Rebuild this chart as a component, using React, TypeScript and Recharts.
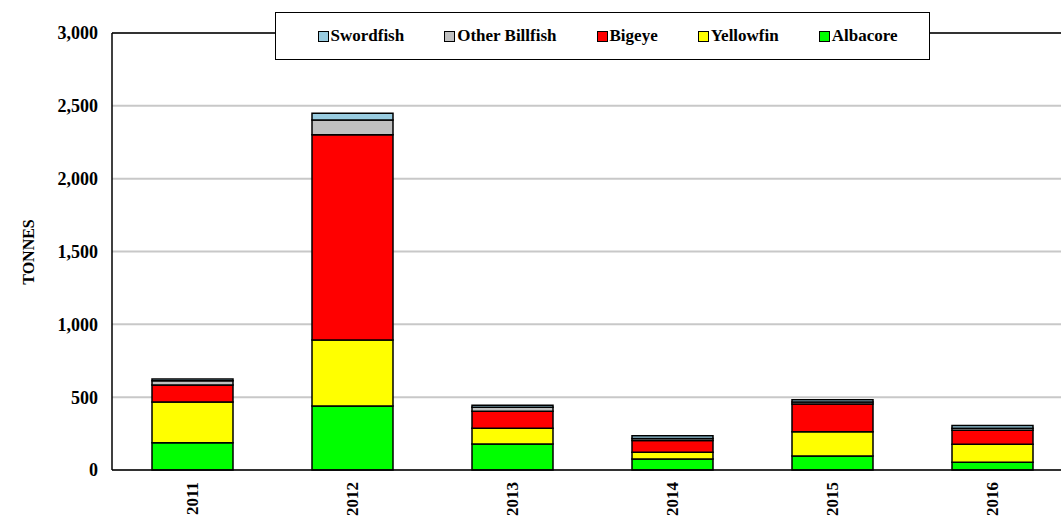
import React from "react";
import {
  Bar,
  BarChart,
  CartesianGrid,
  Label,
  ReferenceLine,
  XAxis,
  YAxis,
} from "recharts";

const years = ["2011", "2012", "2013", "2014", "2015", "2016"];
const albacore = [187, 439, 178, 76, 96, 53];
const yellowfin = [279, 453, 108, 46, 167, 124];
const bigeye = [117, 1410, 117, 80, 190, 96];
const otherBillfish = [30, 101, 27, 15, 14, 14];
const swordfish = [12, 46, 15, 18, 16, 19];
const yTicks = [0, 500, 1000, 1500, 2000, 2500, 3000];

// stacking order, bottom first
const series = [
  { key: "albacore", name: "Albacore", color: "#00FF00" },
  { key: "yellowfin", name: "Yellowfin", color: "#FFFF00" },
  { key: "bigeye", name: "Bigeye", color: "#FF0000" },
  { key: "otherBillfish", name: "Other Billfish", color: "#C0C0C0" },
  { key: "swordfish", name: "Swordfish", color: "#99CCE0" },
];

const data = years.map((year, i) => ({
  year,
  albacore: albacore[i],
  yellowfin: yellowfin[i],
  bigeye: bigeye[i],
  otherBillfish: otherBillfish[i],
  swordfish: swordfish[i],
}));

const FONT = '"Liberation Serif", "Times New Roman", serif';

function YearTick({ x, y, payload }: any) {
  return (
    <text
      transform={`translate(${x},${y + 4}) rotate(-90)`}
      textAnchor="end"
      dy="0.35em"
      fontFamily={FONT}
      fontWeight="bold"
      fontSize={17}
      fill="#000"
    >
      {payload.value}
    </text>
  );
}

function YLabel() {
  return (
    <text
      transform="translate(34,252) rotate(-90)"
      textAnchor="middle"
      fontFamily={FONT}
      fontWeight="bold"
      fontSize={16}
      fill="#000"
    >
      TONNES
    </text>
  );
}

export default function App() {
  const legendItems = [...series].reverse();
  return (
    <div
      style={{
        position: "absolute",
        left: 0,
        top: 0,
        width: 1061,
        height: 520,
        overflow: "hidden",
        background: "#fff",
      }}
    >
      <BarChart
        width={1080}
        height={520}
        data={data}
        margin={{ top: 33, right: 8, left: 0, bottom: 0 }}
        barSize={81}
      >
        <CartesianGrid vertical={false} stroke="#C8C8C8" strokeWidth={2} />
        <XAxis
          dataKey="year"
          height={50}
          tickLine={false}
          axisLine={{ stroke: "#000", strokeWidth: 1.5 }}
          tick={<YearTick />}
          interval={0}
        />
        <YAxis
          width={112}
          domain={[0, 3000]}
          ticks={yTicks}
          tickLine={false}
          tickMargin={8}
          axisLine={{ stroke: "#000", strokeWidth: 1.5 }}
          tickFormatter={(v: number) => v.toLocaleString("en-US")}
          tick={{ fill: "#000", fontSize: 18, fontWeight: "bold", fontFamily: FONT }}
        >
          <Label content={<YLabel />} />
        </YAxis>
        <ReferenceLine y={3000} stroke="#000" strokeWidth={1.5} />
        {series.map((s) => (
          <Bar
            key={s.key}
            dataKey={s.key}
            name={s.name}
            stackId="catch"
            fill={s.color}
            stroke="#000"
            strokeWidth={1.5}
            isAnimationActive={false}
          />
        ))}
      </BarChart>
      <div
        style={{
          position: "absolute",
          left: 275,
          top: 12,
          width: 655,
          height: 48,
          boxSizing: "border-box",
          border: "1.5px solid #000",
          background: "#fff",
          display: "flex",
          alignItems: "center",
          justifyContent: "center",
          gap: 40,
          paddingLeft: 10,
          fontFamily: FONT,
          fontWeight: "bold",
          fontSize: 17,
        }}
      >
        {legendItems.map((s) => (
          <div key={s.key} style={{ display: "flex", alignItems: "center" }}>
            <span
              style={{
                display: "inline-block",
                width: 9,
                height: 9,
                background: s.color,
                border: "1px solid #000",
                marginRight: 2,
              }}
            />
            <span>{s.name}</span>
          </div>
        ))}
      </div>
    </div>
  );
}
